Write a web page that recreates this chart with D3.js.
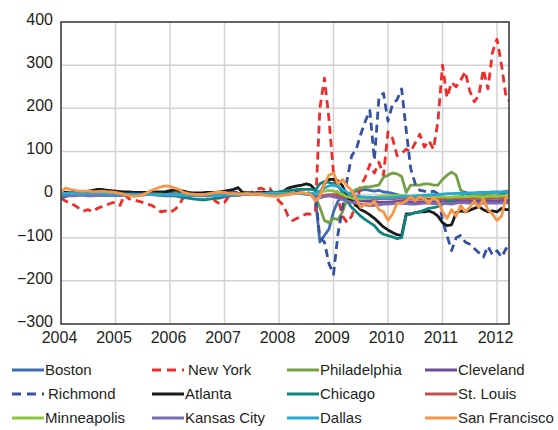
<!DOCTYPE html>
<html>
<head>
<meta charset="utf-8">
<script src="https://cdn.jsdelivr.net/npm/d3@7"></script>
<style>
  body { margin: 0; background: #fff; }
  text { font-family: "Liberation Sans", Arial, sans-serif; fill: #231f20; }
</style>
</head>
<body>
<div id="chart"></div>
<script>
// monthly observations, Jan 2004 .. Apr 2012
const years = [2004, 2005, 2006, 2007, 2008, 2009, 2010, 2011, 2012];
const yTicks = [-300, -200, -100, 0, 100, 200, 300, 400];
const months = d3.range(100).map(i => 2004 + i / 12);

const boston = [
  2, 3, 3, 2, 2, 3, 3, 2, 2, 3, 3, 2,
  2, 2, 1, 1, 2, 2, 3, 3, 2, 2, 2, 3,
  3, 3, 2, 2, 1, 1, 0, 0, 0, 1, 1, 2,
  2, 2, 3, 3, 2, 2, 2, 3, 3, 4, 4, 3,
  3, 3, 2, 2, 3, 3, 2, 0, -5, -110, -95, -80,
  -40, -15, -5, 0, 5, 8, 10, 12, 10, 8, 10, 6,
  5, 3, 0, -3, -5, -6, -8, -8, -10, -10, -12, -12,
  -12, -14, -15, -15, -14, -15, -16, -15, -15, -16, -15, -14,
  -15, -14, -13, -13
];
const newYork = [
  -8, -15, -20, -25, -32, -38, -35, -40, -32, -28, -24, -20,
  -18, -25, 0, -10, -12, -15, -18, -22, -25, -32, -40, -38,
  -42, -35, -25, -5, 0, -2, 0, 2, -3, -3, -15, -22,
  -18, -3, 0, 2, 3, 0, 5, 12, 15, 10, 14, -2,
  -15, -25, -50, -60, -55, -50, -45, -45, -40, 200, 270, 175,
  50, -10, -50, -65, -50, -20, 20, 40, 70, 50, 75, 45,
  145, 130, 90, 95, 105, 100, 120, 140, 110, 125, 105, 170,
  300, 225, 260, 250, 265, 285, 240, 215, 230, 290, 245, 330,
  360, 300, 225, 215
];
const philadelphia = [
  1, 1, 2, 2, 2, 1, 1, 2, 2, 2, 1, 1,
  1, 1, 1, 2, 2, 2, 2, 1, 1, 1, 2, 2,
  2, 2, 2, 1, 1, 1, 1, 0, 0, 0, 1, 1,
  1, 1, 1, 2, 2, 2, 2, 2, 2, 2, 1, 1,
  1, 2, 2, 2, 2, 2, 1, 0, -5, -30, -60, -65,
  -55, -58, -40, -10, 5, 12, 15, 18, 18, 20, 22, 40,
  45, 50, 48, 42, 5, 22, 22, 22, 25, 25, 22, 22,
  35, 45, 52, 45, 10, 5, 2, 0, -2, 0, 2, 3,
  5, 5, 8, 8
];
const cleveland = [
  0, 1, 1, 1, 0, 0, 1, 1, 1, 0, 0, 1,
  1, 1, 0, 0, 1, 1, 1, 0, 0, 1, 1, 1,
  1, 0, 0, -1, -1, -1, 0, 0, 0, 1, 1, 1,
  1, 1, 1, 2, 2, 2, 2, 1, 1, 1, 2, 2,
  2, 2, 3, 3, 3, 3, 2, 2, 0, -5, -3, -2,
  -3, -5, -8, -10, -12, -12, -14, -15, -16, -16, -18, -18,
  -18, -17, -16, -15, -16, -17, -18, -18, -17, -18, -18, -18,
  -18, -17, -16, -15, -14, -15, -16, -15, -14, -15, -14, -15,
  -15, -14, -14, -14
];
const richmond = [
  3, 4, 4, 3, 3, 4, 4, 3, 3, 4, 4, 3,
  3, 3, 2, 2, 3, 3, 4, 4, 3, 3, 3, 4,
  4, 4, 3, 3, 2, 2, 2, 2, 3, 3, 3, 4,
  4, 4, 5, 5, 4, 4, 4, 5, 5, 6, 6, 5,
  5, 5, 6, 6, 7, 6, 5, 3, 0, -100, -110, -160,
  -185, -90, -30, 35, 90, 105, 140, 170, 195, 80, 225, 235,
  170, 210, 220, 245, 150, 60, 25, 10, 8, 5, 8, 2,
  -60, -95, -130, -100, -95, -110, -115, -125, -135, -145, -120, -140,
  -130, -145, -125, -130
];
const atlanta = [
  5, 5, 4, 5, 5, 6, 8, 10, 12, 12, 10, 9,
  8, 7, 6, 6, 5, 5, 5, 5, 5, 6, 6, 7,
  9, 10, 10, 8, 5, 4, 4, 4, 5, 5, 5, 6,
  8, 10, 12, 16, 5, 4, 4, 4, 4, 5, 5, 5,
  5, 8, 15, 18, 20, 22, 25, 22, 10, 0, 25, 35,
  35, 32, 20, -5, -15, -25, -35, -40, -47, -55, -65, -75,
  -82, -88, -93, -95, -45, -45, -42, -40, -40, -38, -42, -50,
  -65, -72, -70, -42, -38, -40, -36, -32, -28, -35, -40, -38,
  -40, -32, -35, -35
];
const chicago = [
  -8, -5, -2, -1, 0, 0, 0, 0, -1, -1, -2, -2,
  -2, -2, 0, 0, 0, 0, 0, 0, 0, -1, -2, -3,
  -3, -3, -5, -7, -8, -10, -11, -12, -12, -10, -9, -8,
  -5, -3, -2, -2, 0, 0, 0, 0, 2, 3, 5, 5,
  6, 8, 10, 10, 12, 12, 12, 12, 10, 25, 30, 28,
  25, 20, 5, -15, -30, -40, -50, -58, -65, -72, -85, -92,
  -95, -98, -102, -100, -48, -45, -42, -40, -36, -32, -30, -28,
  -22, -18, -14, -10, -5, 5, -3, -5, -5, -3, -5, -5,
  -3, 0, 5, 5
];
const stLouis = [
  1, 1, 0, 0, 1, 1, 1, 1, 0, 0, 0, 1,
  1, 0, 0, 0, 1, 1, 1, 1, 1, 1, 0, 0,
  0, 0, 0, 0, -1, -1, 0, 0, 0, 0, 1, 1,
  1, 1, 1, 1, 1, 2, 2, 2, 2, 2, 2, 2,
  2, 2, 2, 3, 3, 3, 3, 2, 0, -3, -2, 0,
  0, -2, -4, -5, -6, -7, -8, -8, -9, -10, -10, -10,
  -10, -10, -9, -9, -10, -10, -11, -11, -10, -10, -10, -11,
  -11, -10, -10, -9, -9, -10, -10, -9, -8, -9, -9, -8,
  -8, -8, -7, -7
];
const minneapolis = [
  0, 0, 1, 1, 1, 1, 0, 0, 0, 1, 1, 1,
  1, 1, 1, 0, 0, 0, 1, 1, 1, 1, 1, 0,
  0, 0, 0, 0, 0, -1, -1, -1, 0, 0, 0, 0,
  0, 0, 1, 1, 1, 1, 1, 1, 1, 1, 2, 2,
  2, 2, 2, 2, 2, 3, 3, 2, 0, 5, 8, 10,
  8, 5, 0, -5, -8, -10, -10, -8, -8, -6, -5, -4,
  -3, -3, -2, -2, -3, -4, -4, -5, -5, -4, -4, -5,
  -5, -6, -6, -5, -5, -5, -4, -4, -5, -5, -4, -4,
  -4, -3, -3, -3
];
const kansasCity = [
  -2, -2, -3, -3, -2, -2, -3, -3, -2, -2, -2, -2,
  -2, -2, -2, -1, -1, -1, -1, 0, 0, 0, -1, -1,
  -1, -1, -2, -2, -2, -3, -3, -3, -3, -2, -2, -2,
  -2, -1, -1, -1, 0, 0, 0, 0, 0, 1, 1, 1,
  1, 1, 1, 2, 2, 2, 1, 0, -3, -8, -5, -3,
  -5, -8, -12, -15, -18, -20, -22, -24, -26, -25, -24, -22,
  -22, -21, -20, -20, -21, -22, -22, -21, -20, -20, -21, -21,
  -20, -21, -22, -20, -18, -19, -20, -20, -21, -20, -19, -20,
  -20, -19, -19, -19
];
const dallas = [
  2, 3, 3, 3, 2, 2, 2, 2, 2, 2, 1, 1,
  1, 1, 1, 1, 1, 0, 0, 0, 0, 0, 0, 0,
  0, 0, -1, -1, -2, -2, -2, -2, -1, -1, -1, 0,
  0, 0, 0, 0, 1, 1, 1, 1, 1, 1, 1, 1,
  1, 1, 1, 2, 2, 2, 2, 2, 3, 8, 15, 20,
  22, 18, 12, 5, 0, -3, -5, -6, -6, -7, -7, -8,
  -8, -7, -6, -5, -5, -4, -3, -2, -2, -1, 0, 0,
  1, 2, 2, 3, 3, 3, 4, 4, 5, 5, 5, 6,
  6, 6, 7, 7
];
const sanFrancisco = [
  5, 15, 12, 10, 8, 8, 8, 7, 7, 8, 7, 6,
  5, 3, 0, -2, -4, -3, -1, 5, 10, 14, 18, 20,
  19, 15, 12, 5, 2, 1, 0, 0, 1, 3, 5, 6,
  5, 3, 2, 1, 1, 2, 0, 1, 0, -2, -3, -4,
  -3, -2, 0, 2, 3, 5, 3, 0, -15, -5, 25, 45,
  50, 25, 35, 20, 10, -10, -30, -20, -25, -15, -35, -40,
  -60, -45, -20, -20, -15, -5, -15, -5, -10, -20, -8, -15,
  -40, -55, -35, -50, -25, -40, -30, -15, -30, -10, -35, -45,
  -60, -50, -5, -10
];

const series = [
  { name: 'Boston', values: boston, color: '#3d6db1' },
  { name: 'New York', values: newYork, color: '#ee2d2b', dashed: true },
  { name: 'Philadelphia', values: philadelphia, color: '#76a045' },
  { name: 'Cleveland', values: cleveland, color: '#6b4c9a' },
  { name: 'Richmond', values: richmond, color: '#3552a2', dashed: true },
  { name: 'Atlanta', values: atlanta, color: '#1a1a1a' },
  { name: 'Chicago', values: chicago, color: '#10847e' },
  { name: 'St. Louis', values: stLouis, color: '#c0504d' },
  { name: 'Minneapolis', values: minneapolis, color: '#8cc63f' },
  { name: 'Kansas City', values: kansasCity, color: '#7d6ab4' },
  { name: 'Dallas', values: dallas, color: '#27a8d2' },
  { name: 'San Francisco', values: sanFrancisco, color: '#f79646' }
];

const width = 558, height = 430;
const plot = { left: 61, right: 509, top: 22, bottom: 324 };

const svg = d3.select('#chart')
    .append('svg')
    .attr('width', width)
    .attr('height', height);

const x = d3.scaleLinear().domain([2004, 2012.22]).range([plot.left, plot.right]);
const y = d3.scaleLinear().domain([-300, 400]).range([plot.bottom, plot.top]);

// grid
const grid = svg.append('g').attr('stroke', '#d2d2d2').attr('stroke-width', 1.5);
grid.selectAll('line.v')
    .data(years.slice(1))
    .join('line')
    .attr('x1', d => x(d)).attr('x2', d => x(d))
    .attr('y1', plot.top).attr('y2', plot.bottom);
grid.selectAll('line.h')
    .data(yTicks.slice(1, -1))
    .join('line')
    .attr('x1', plot.left).attr('x2', plot.right)
    .attr('y1', d => y(d)).attr('y2', d => y(d));

// axes labels
const yAxis = d3.axisLeft(y).tickValues(yTicks).tickSize(0).tickPadding(8);
svg.append('g')
    .attr('transform', `translate(${plot.left},0)`)
    .call(yAxis)
    .call(g => g.select('.domain').remove())
    .selectAll('text')
    .attr('font-size', 16)
    .attr('dy', '0.15em');

const xAxis = d3.axisBottom(x).tickValues(years).tickFormat(d3.format('d')).tickSize(0).tickPadding(8);
svg.append('g')
    .attr('transform', `translate(-2,${plot.bottom})`)
    .call(xAxis)
    .call(g => g.select('.domain').remove())
    .selectAll('text')
    .attr('font-size', 16);

svg.selectAll('.tick text').style('fill', '#231f20').style('font-family', '"Liberation Sans", Arial, sans-serif');

// lines
svg.append('clipPath').attr('id', 'clip')
    .append('rect')
    .attr('x', plot.left).attr('y', plot.top)
    .attr('width', plot.right - plot.left).attr('height', plot.bottom - plot.top);

const line = d3.line()
    .x((d, i) => x(months[i]))
    .y(d => y(d));

svg.append('g')
    .attr('clip-path', 'url(#clip)')
    .selectAll('path')
    .data(series)
    .join('path')
    .attr('fill', 'none')
    .attr('stroke', d => d.color)
    .attr('stroke-width', 2.8)
    .attr('stroke-linejoin', 'round')
    .attr('stroke-dasharray', d => d.dashed ? '8,5' : null)
    .attr('d', d => line(d.values));

// frame
svg.append('rect')
    .attr('x', plot.left).attr('y', plot.top)
    .attr('width', plot.right - plot.left).attr('height', plot.bottom - plot.top)
    .attr('fill', 'none')
    .attr('stroke', '#333')
    .attr('stroke-width', 1.5);

// legend
const colX = [12, 152, 287, 425];
const rowY = [370, 394, 418];
const legend = svg.append('g')
    .selectAll('g')
    .data(series)
    .join('g')
    .attr('transform', (d, i) => `translate(${colX[i % 4]},${rowY[Math.floor(i / 4)]})`);

legend.append('line')
    .attr('x1', 0).attr('x2', 32)
    .attr('stroke', d => d.color)
    .attr('stroke-width', 3)
    .attr('stroke-dasharray', d => d.dashed ? '9,6' : null);

legend.append('text')
    .attr('x', d => d.dashed ? 36 : 33)
    .attr('dy', '0.35em')
    .attr('font-size', 15)
    .text(d => d.name);
</script>
</body>
</html>
